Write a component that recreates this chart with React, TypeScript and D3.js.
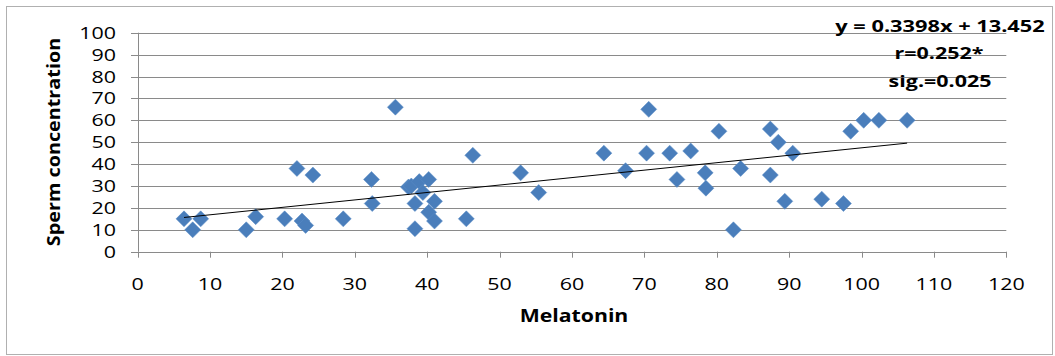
import React from "react";
import * as d3 from "d3";

const melatonin = [6.4, 7.6, 8.7, 15.0, 16.3, 20.3, 22.0, 22.7, 23.2, 24.2, 28.4, 32.3, 32.4, 35.6, 37.4, 37.8, 38.9, 38.3, 38.3, 39.4, 40.2, 40.2, 41.0, 41.0, 45.4, 46.3, 52.9, 55.4, 64.4, 67.4, 70.6, 70.3, 73.5, 74.5, 76.4, 78.4, 78.5, 80.3, 82.3, 83.3, 87.4, 87.4, 88.5, 89.4, 90.5, 94.5, 97.5, 98.5, 100.3, 102.4, 106.3];
const sperm = [15, 10, 15, 10, 16, 15, 38, 14, 12, 35, 15, 33, 22, 66, 29.5, 30, 32, 22, 10.5, 27, 33, 18, 23, 14, 15, 44, 36, 27, 45, 37, 65, 45, 45, 33, 46, 36, 29, 55, 10, 38, 56, 35, 50, 23, 45, 24, 22, 55, 60, 60, 60];

const xTicks = [0, 10, 20, 30, 40, 50, 60, 70, 80, 90, 100, 110, 120];
const yTicks = [0, 10, 20, 30, 40, 50, 60, 70, 80, 90, 100];

const slope = 0.3398;
const intercept = 13.452;
const statLines = ["y = 0.3398x + 13.452", "r=0.252*", "sig.=0.025"];
const xTitle = "Melatonin";
const yTitle = "Sperm concentration";

const W = 1055;
const H = 356;
const FONT = "'Open Sans', sans-serif";
const SX = 1.25;

function Txt({ x, y, children, size, weight = "normal", anchor = "middle", sx = SX, rotate = 0 }: any) {
  return (
    <text
      transform={`translate(${x},${y}) rotate(${rotate}) scale(${sx},1)`}
      fontFamily={FONT}
      fontSize={size}
      fontWeight={weight}
      textAnchor={anchor}
      fill="#000"
    >
      {children}
    </text>
  );
}

export default function App() {
  const x = d3.scaleLinear().domain([0, 120]).range([137.7, 1006.3]);
  const y = d3.scaleLinear().domain([0, 100]).range([251.7, 32.7]);
  const gridColor = "#8a8a8a";
  const x0 = d3.min(melatonin) as number;
  const x1 = d3.max(melatonin) as number;
  const trend = d3.line<number>().x((d) => x(d)).y((d) => y(slope * d + intercept));
  const r = 8;

  return (
    <svg width={W} height={H} style={{ position: "absolute", left: 0, top: 0, background: "#fff" }}>
      <rect x={6.5} y={6.5} width={1046} height={348} fill="#fff" stroke="#b0b0b0" strokeWidth={1} />
      {yTicks.map((t) => (
        <g key={"y" + t}>
          <line x1={131} x2={x(120)} y1={Math.round(y(t)) + 0.5} y2={Math.round(y(t)) + 0.5} stroke={gridColor} strokeWidth={1} />
          <Txt x={116} y={y(t) + 6} size={16.5} anchor="end" sx={1.3}>{t}</Txt>
        </g>
      ))}
      <line x1={Math.round(x(0)) + 0.5} x2={Math.round(x(0)) + 0.5} y1={y(100)} y2={y(0)} stroke={gridColor} strokeWidth={1} />
      {xTicks.map((t) => (
        <g key={"x" + t}>
          <line x1={Math.round(x(t)) + 0.5} x2={Math.round(x(t)) + 0.5} y1={y(0)} y2={y(0) + 6} stroke={gridColor} strokeWidth={1} />
          <Txt x={x(t)} y={290} size={16.5} sx={1.3}>{t}</Txt>
        </g>
      ))}
      {melatonin.map((m, i) => {
        const cx = x(m);
        const cy = y(sperm[i]);
        return (
          <path
            key={"p" + i}
            d={`M${cx},${cy - r}L${cx + r},${cy}L${cx},${cy + r}L${cx - r},${cy}Z`}
            fill="#4a7ebb"
            stroke="#5b8cc6"
            strokeWidth={0.5}
          />
        );
      })}
      <path d={trend([x0, x1]) as string} fill="none" stroke="#000" strokeWidth={1} />
      <Txt x={940} y={31.5} size={16.5} weight="bold" sx={1.32}>{statLines[0]}</Txt>
      <Txt x={939} y={58.5} size={16.5} weight="bold" sx={1.3}>{statLines[1]}</Txt>
      <Txt x={940} y={87} size={16.5} weight="bold" sx={1.3}>{statLines[2]}</Txt>
      <Txt x={574} y={322} size={17} weight="bold">{xTitle}</Txt>
      <Txt x={60} y={142} size={18} weight="bold" rotate={-90} sx={1.1}>{yTitle}</Txt>
    </svg>
  );
}
